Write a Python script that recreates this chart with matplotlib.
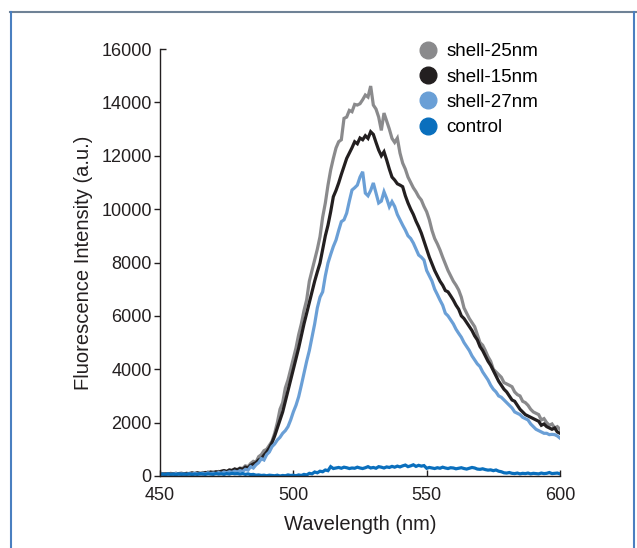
import matplotlib
matplotlib.use("Agg")
import matplotlib.pyplot as plt
import matplotlib.lines as mlines

plt.rcParams['font.family'] = ['Liberation Sans', 'DejaVu Sans']

wavelength = list(range(450, 601))

shell_25nm = [
    80, 60, 90, 70, 100, 80, 60, 90, 110, 80,
    70, 100, 120, 90, 110, 80, 130, 100, 150, 120,
    140, 110, 170, 150, 200, 160, 230, 190, 260, 240,
    300, 280, 380, 350, 470, 550, 520, 725, 800, 950,
    1000, 1150, 1300, 1600, 2000, 2500, 2750, 3300, 3600, 4000,
    4400, 4800, 5300, 5700, 6200, 6600, 7300, 7700, 8100, 8500,
    8970, 9700, 10230, 10900, 11465, 11900, 12290, 12525, 12600, 13400,
    13450, 13700, 13650, 13925, 13900, 13950, 14100, 14275, 14200, 14612,
    13900, 13750, 13450, 12950, 13600, 13300, 13000, 12650, 12500, 12660,
    12100, 11725, 11500, 11200, 11000, 10800, 10650, 10465, 10340, 10100,
    9900, 9600, 9200, 8900, 8700, 8470, 8200, 7950, 7700, 7500,
    7300, 7150, 6970, 6700, 6300, 6100, 5900, 5750, 5595, 5300,
    5000, 4900, 4700, 4470, 4300, 4000, 3900, 3800, 3700, 3500,
    3450, 3400, 3345, 3150, 3050, 3000, 2800, 2750, 2650, 2500,
    2400, 2350, 2300, 2100, 2150, 2000, 1900, 1950, 1800, 1850,
    1750,
]

shell_15nm = [
    60, 80, 70, 90, 60, 80, 100, 70, 90, 80,
    100, 80, 110, 90, 120, 100, 90, 130, 110, 150,
    130, 160, 140, 180, 200, 170, 220, 210, 260, 230,
    280, 250, 330, 300, 400, 450, 500, 600, 650, 780,
    900, 1050, 1250, 1500, 1800, 2100, 2400, 2800, 3200, 3600,
    4000, 4400, 4800, 5250, 5700, 6100, 6500, 6900, 7300, 7650,
    7980, 8500, 9000, 9400, 9900, 10465, 10700, 10980, 11300, 11600,
    11900, 12100, 12300, 12525, 12450, 12665, 12600, 12750, 12650, 12900,
    12800, 12500, 12215, 12000, 12150, 11840, 11500, 11200, 11090, 10950,
    10900, 10840, 10500, 10230, 10000, 9800, 9550, 9340, 9100, 8800,
    8500, 8200, 7950, 7700, 7500, 7300, 7150, 6950, 6900, 6750,
    6590, 6400, 6250, 6000, 5900, 5750, 5595, 5450, 5250, 5100,
    4850, 4700, 4500, 4300, 4150, 3950, 3750, 3550, 3400, 3250,
    3150, 3000, 2850, 2800, 2650, 2500, 2400, 2300, 2250, 2200,
    2150, 2100, 2050, 1900, 1950, 1850, 1800, 1750, 1800, 1650,
    1600,
]

shell_27nm = [
    50, 70, 60, 80, 50, 70, 90, 60, 80, 70,
    60, 90, 70, 100, 80, 60, 100, 80, 120, 90,
    110, 90, 130, 100, 150, 120, 160, 140, 180, 150,
    200, 170, 250, 220, 350, 300, 420, 500, 650, 600,
    800, 900, 1100, 1200, 1350, 1450, 1600, 1700, 1850, 2100,
    2400, 2650, 2970, 3400, 3850, 4300, 4700, 5200, 5700, 6300,
    6700, 6900, 7500, 7980, 8300, 8600, 8840, 9200, 9530, 9600,
    9850, 10300, 10715, 10800, 10900, 11200, 11400, 10600, 10500, 10700,
    10980, 10600, 10230, 10300, 10650, 10400, 10090, 10280, 10100, 9800,
    9600, 9400, 9215, 9000, 8900, 8730, 8500, 8280, 8200, 8090,
    7700, 7500, 7300, 7000, 6800, 6590, 6400, 6100, 6000, 5850,
    5700, 5500, 5345, 5200, 5000, 4850, 4700, 4500, 4350, 4200,
    4100, 3900, 3750, 3600, 3400, 3250, 3150, 3000, 2950, 2850,
    2750, 2650, 2550, 2400, 2350, 2300, 2200, 2150, 2100, 1950,
    1850, 1750, 1700, 1650, 1600, 1600, 1550, 1560, 1550, 1500,
    1420,
]

control = [
    60, 70, 50, 80, 60, 70, 50, 80, 60, 70,
    60, 80, 50, 70, 60, 90, 70, 60, 80, 70,
    60, 90, 70, 80, 60, 90, 70, 100, 80, 90,
    70, 90, 60, 80, 50, 60, 30, 40, 20, 30,
    10, 30, 20, 10, 30, 0, 20, 10, 40, 20,
    30, 10, 40, 20, 60, 40, 100, 80, 150, 120,
    180, 160, 225, 200, 350, 280, 300, 320, 290, 330,
    310, 280, 300, 290, 330, 300, 280, 310, 350, 300,
    320, 290, 350, 330, 300, 340, 320, 360, 330, 370,
    340, 380, 410, 350, 380, 420, 360, 400, 370, 390,
    290, 320, 300, 280, 310, 290, 330, 300, 280, 310,
    300, 270, 290, 310, 280, 260, 290, 320, 300, 260,
    250, 270, 240, 220, 230, 200, 225, 180, 160, 120,
    110, 130, 100, 90, 110, 80, 100, 90, 110, 80,
    100, 90, 80, 110, 90, 100, 130, 90, 100, 110,
    80,
]

series_names = ["shell-25nm", "shell-15nm", "shell-27nm", "control"]
series_values = [shell_25nm, shell_15nm, shell_27nm, control]
series_colors = ["#8a8a8c", "#231f20", "#6a9fd6", "#0a6fbd"]

x_ticks = [450, 500, 550, 600]
y_ticks = [0, 2000, 4000, 6000, 8000, 10000, 12000, 14000, 16000]

fig = plt.figure(figsize=(6.37, 5.48), dpi=100)
ax = fig.add_axes([160/637, 1-476/548, 400/637, 427/548])

for name, vals, col in zip(series_names, series_values, series_colors):
    ax.plot(wavelength, vals, color=col, lw=2.3, solid_joinstyle='miter')

ax.set_xlim(450, 600)
ax.set_ylim(0, 16000)
ax.set_xticks(x_ticks)
ax.set_yticks(y_ticks)
ax.spines['top'].set_visible(False)
ax.spines['right'].set_visible(False)
for s in ['left', 'bottom']:
    ax.spines[s].set_linewidth(1.0)
    ax.spines[s].set_color('#231f20')
ax.tick_params(axis='x', direction='in', length=4, width=1.0, color='#231f20',
               labelsize=13, pad=8, labelcolor='#231f20')
ax.tick_params(axis='y', direction='out', length=4, width=1.0, color='#231f20',
               labelsize=13, pad=2, labelcolor='#231f20')
ax.set_xlabel("Wavelength (nm)", fontsize=14.5, color='#231f20', labelpad=8)
ax.set_ylabel("Fluorescence Intensity (a.u.)", fontsize=14.5, color='#231f20', labelpad=6)

# top y tick drawn inward
ax.yaxis.get_major_ticks()[-1].tick1line.set_marker(mlines.TICKRIGHT)

handles = [mlines.Line2D([], [], ls='none', marker='o', markersize=12,
                         color=c, markeredgecolor=c) for c in series_colors]
ax.legend(handles, series_names, loc='upper left', bbox_to_anchor=(419/637, 1-43/548),
          bbox_transform=fig.transFigure, frameon=False, fontsize=13.5,
          handlelength=1.0, handletextpad=0.45, labelspacing=0.44, borderpad=0,
          borderaxespad=0)

# outer frame
fig.add_artist(mlines.Line2D([10/637, 1], [1-12/548, 1-12/548], transform=fig.transFigure,
                             color='#6f8296', lw=1.5))
fig.add_artist(mlines.Line2D([11/637, 11/637], [0, 1-12/548], transform=fig.transFigure,
                             color='#4a7fc0', lw=1.5))
fig.add_artist(mlines.Line2D([634/637, 634/637], [0, 1-12/548], transform=fig.transFigure,
                             color='#4a7fc0', lw=1.5))

fig.savefig("out.png", dpi=100)
